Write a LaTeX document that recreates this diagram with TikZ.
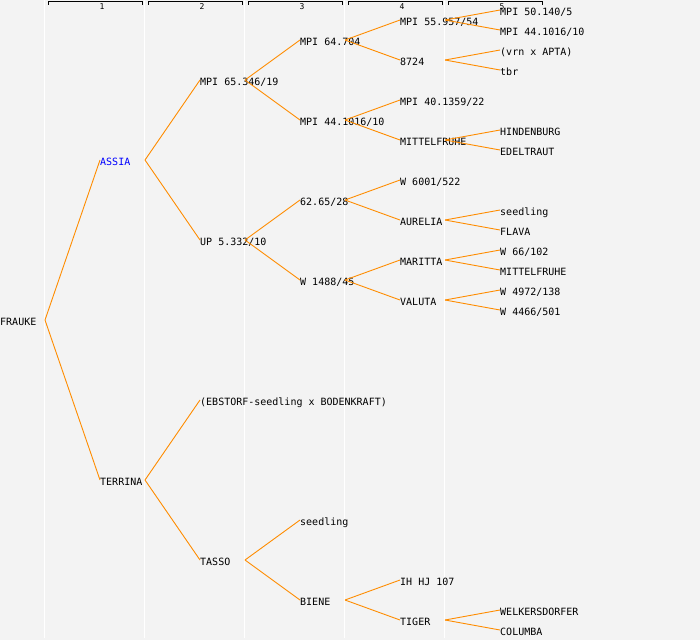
\documentclass[tikz,border=0pt]{standalone}
\usepackage{fontspec}
\setmonofont{DejaVu Sans Mono}
\definecolor{pagebg}{HTML}{F3F3F3}
\definecolor{linkorange}{HTML}{FF8C00}

\begin{document}
\begin{tikzpicture}
[
    x=1pt, y=-1pt,
    grow'=right, level distance=100pt,
    growth parent anchor=west,
    level 1/.style={sibling distance=320pt},
    level 2/.style={sibling distance=160pt},
    level 3/.style={sibling distance=80pt},
    level 4/.style={sibling distance=40pt},
    level 5/.style={sibling distance=20pt},
    every node/.style={anchor=west, inner sep=0pt, text height=11.3pt, text depth=0pt,
        font=\ttfamily\fontsize{10}{12}\selectfont},
    edge from parent/.style={draw=linkorange, line width=0.9pt},
    edge from parent path={([xshift=45pt]\tikzparentnode.west) -- (\tikzchildnode.west)},
    colhead/.style={anchor=center, text height=, text depth=, font=\ttfamily\fontsize{8}{9}\selectfont},
]
\useasboundingbox [fill=pagebg] (0,0) rectangle (700,640);
\foreach \i in {0,...,4}
    \draw [white, line width=1pt] (100*\i+44.5,0) -- (100*\i+44.5,638);
\foreach \i in {1,...,5} {
    \draw [line width=0.8pt] (100*\i-52,4.5) -- (100*\i-52,1.5) -- (100*\i+42,1.5) -- (100*\i+42,4.5);
    \node [colhead] (head\i) at (100*\i+2,6.5) {\i};
}
\node (frauke) at (0,320) {FRAUKE}
    child {node [blue] (assia) {ASSIA}
    child {node (mpi65) {MPI 65.346/19}
    child {node (mpi64) {MPI 64.704}
    child {node (mpi55) {MPI 55.957/54}
        child {node (mpi50) {MPI 50.140/5}}
        child {node (mpi44b) {MPI 44.1016/10}}
}   child {node (n8724) {8724}
        child {node (vrn) {(vrn x APTA)}}
        child {node (tbr) {tbr}}
}}  child {node (mpi44) {MPI 44.1016/10}
    child {node (mpi40) {MPI 40.1359/22}}
    child {node (mittel) {MITTELFRUHE}
        child {node (hinden) {HINDENBURG}}
        child {node (edel) {EDELTRAUT}}
}}} child {node (up) {UP 5.332/10}
    child {node (n6265) {62.65/28}
    child {node (w6001) {W 6001/522}}
    child {node (aurelia) {AURELIA}
        child {node (seedling) {seedling}}
        child {node (flava) {FLAVA}}
}}  child {node (w1488) {W 1488/45}
    child {node (maritta) {MARITTA}
        child {node (w66) {W 66/102}}
        child {node (mittelb) {MITTELFRUHE}}
}   child {node (valuta) {VALUTA}
        child {node (w4972) {W 4972/138}}
        child {node (w4466) {W 4466/501}}
}}}}
    child {node (terrina) {TERRINA}
    child {node (ebstorf) {(EBSTORF-seedling x BODENKRAFT)}}
    child {node (tasso) {TASSO}
    child {node (seedlingb) {seedling}}
    child {node (biene) {BIENE}
    child {node (ihhj) {IH HJ 107}}
    child {node (tiger) {TIGER}
        child {node (welkers) {WELKERSDORFER}}
        child {node (columba) {COLUMBA}}
}}}};
\end{tikzpicture}
\end{document}
